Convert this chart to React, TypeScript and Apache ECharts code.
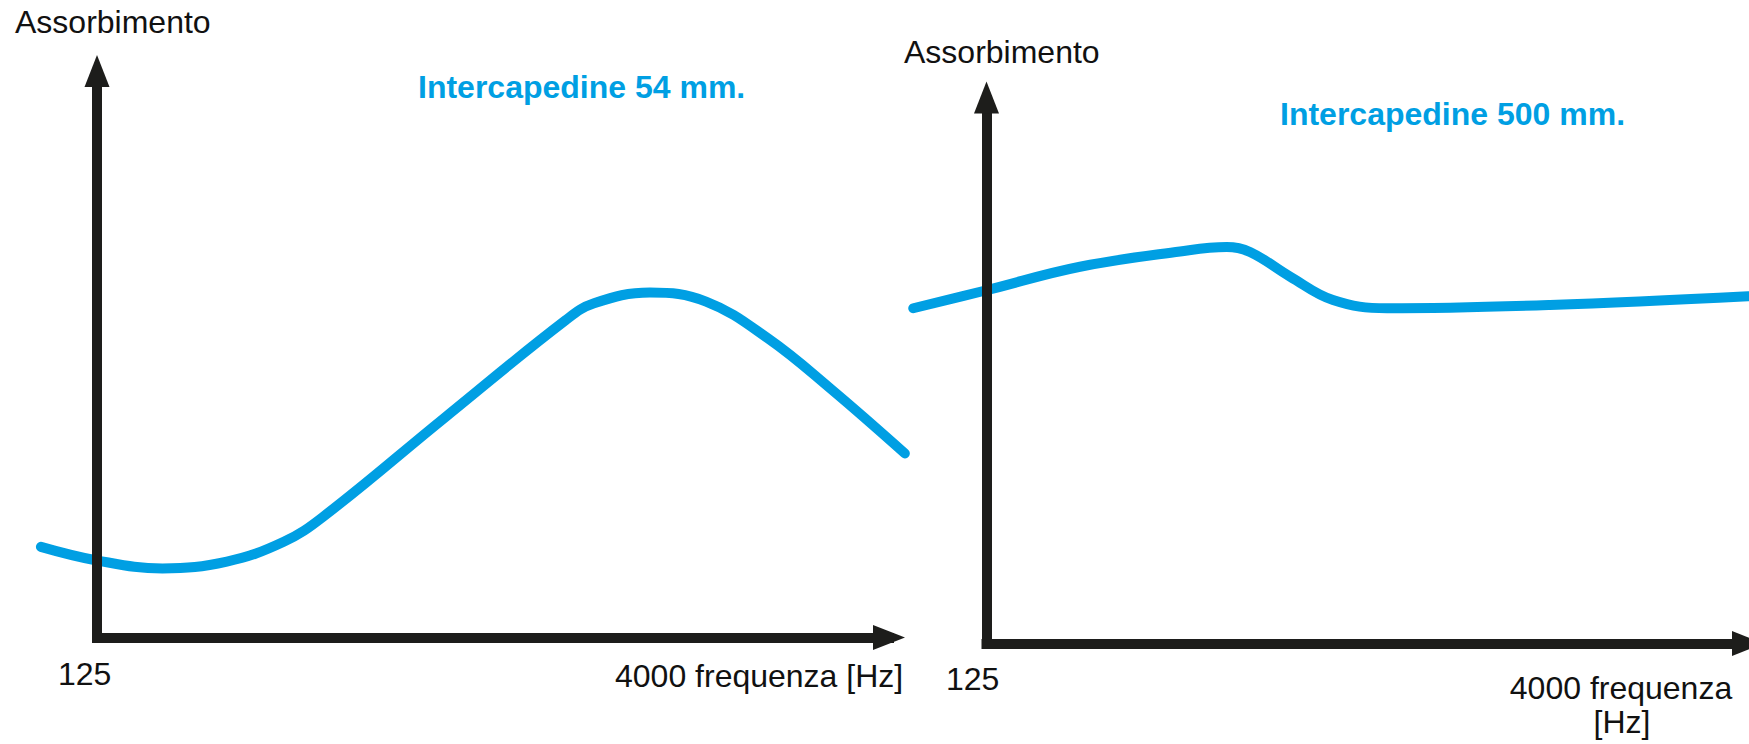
import React, { useEffect, useRef } from 'react';
import * as echarts from 'echarts';

// Horizontal position of each point in octaves above 125 Hz (0 = 125 Hz, 5 = 4000 Hz),
// absorption read on a 0..1 scale from the picture.
// Curve for 54 mm cavity
const OCT_54 = [-0.354, 0, 0.413, 0.82, 1.179, 1.427, 2.19, 2.958, 3.138, 3.491, 3.845, 4.236, 4.628, 5.1];
const ABS_54 = [0.16, 0.136, 0.122, 0.134, 0.169, 0.213, 0.387, 0.56, 0.59, 0.609, 0.593, 0.528, 0.44, 0.325];

// Curve for 500 mm cavity
const OCT_500 = [-0.481, 0, 0.614, 1.271, 1.577, 1.73, 1.993, 2.275, 2.63, 3.7, 5.0];
const ABS_500 = [0.614, 0.647, 0.69, 0.718, 0.726, 0.717, 0.672, 0.629, 0.614, 0.62, 0.636];

const X_TICKS = [0, 5];
const X_TICK_LABELS = ['125', '4000'];
const X_AXIS_NAME = 'frequenza [Hz]';
const Y_AXIS_NAME = 'Assorbimento';
const TITLES = ['Intercapedine 54 mm.', 'Intercapedine 500 mm.'];

const BLUE = '#009fe3';
const AXIS_COLOR = '#1d1d1b';
const TEXT_COLOR = '#111111';
const FAMILY = '"Liberation Sans", Arial, Helvetica, sans-serif';
const FONT = `32px ${FAMILY}`;
const BOLD_FONT = `bold 32px ${FAMILY}`;

const W = 1749;
const H = 744;

// Axis frames (pixel layout)
const FRAMES = [
  { x0: 97, x1: 889, top: 71, bottom: 637.5, extMin: -0.5, extMax: 5.5 },
  { x0: 986.5, x1: 1748, top: 97.5, bottom: 643.5, extMin: -0.5, extMax: 5.0 },
];

function axisGrid(f: any) {
  return { left: f.x0, right: W - f.x1, top: f.top, bottom: H - f.bottom };
}

// A wider plotting area sharing the same scale as the axis frame, so the curves can run past the axes
function plotGrid(f: any) {
  const perUnit = (f.x1 - f.x0) / (X_TICKS[1] - X_TICKS[0]);
  const left = f.x0 + (f.extMin - X_TICKS[0]) * perUnit;
  const right = f.x1 + (f.extMax - X_TICKS[1]) * perUnit;
  return { left, right: W - right, top: f.top, bottom: H - f.bottom };
}

function makeXAxis(gridIndex: number) {
  return {
    type: 'value',
    gridIndex,
    min: X_TICKS[0],
    max: X_TICKS[1],
    interval: X_TICKS[1] - X_TICKS[0],
    z: 5,
    axisLine: {
      show: true,
      onZero: false,
      symbol: ['none', 'triangle'],
      symbolSize: [25, 32],
      lineStyle: { color: AXIS_COLOR, width: 10, cap: 'square' },
    },
    axisTick: { show: false },
    axisLabel: { show: false },
    splitLine: { show: false },
  };
}

function makeYAxis(gridIndex: number) {
  return {
    type: 'value',
    gridIndex,
    min: 0,
    max: 1,
    z: 5,
    axisLine: {
      show: true,
      onZero: false,
      symbol: ['none', 'triangle'],
      symbolSize: [25, 32],
      lineStyle: { color: AXIS_COLOR, width: 10 },
    },
    axisTick: { show: false },
    axisLabel: { show: false },
    splitLine: { show: false },
  };
}

function hiddenX(gridIndex: number, f: any) {
  return { type: 'value', gridIndex, min: f.extMin, max: f.extMax, show: false, splitLine: { show: false } };
}

function hiddenY(gridIndex: number) {
  return { type: 'value', gridIndex, min: 0, max: 1, show: false, splitLine: { show: false } };
}

function makeSeries(idx: number, xs: number[], values: number[]) {
  return {
    type: 'line',
    xAxisIndex: idx,
    yAxisIndex: idx,
    data: xs.map((x, i) => [x, values[i]]),
    smooth: 0.4,
    showSymbol: false,
    symbol: 'none',
    clip: false,
    z: 2,
    lineStyle: { color: BLUE, width: 10, cap: 'round', join: 'round' },
  };
}

function txt(text: string, x: number, y: number, font: string, fill: string, align: string) {
  return {
    type: 'text',
    x,
    y,
    z: 10,
    style: {
      text,
      font,
      fill,
      align,
      textAlign: align,
      verticalAlign: 'middle',
      textVerticalAlign: 'middle',
    },
  };
}

export default function App() {
  const ref = useRef<HTMLDivElement>(null);

  useEffect(() => {
    if (!ref.current) return;
    const chart = echarts.init(ref.current, null, { renderer: 'svg' });
    const option: any = {
      animation: false,
      backgroundColor: '#ffffff',
      grid: [axisGrid(FRAMES[0]), axisGrid(FRAMES[1]), plotGrid(FRAMES[0]), plotGrid(FRAMES[1])],
      xAxis: [makeXAxis(0), makeXAxis(1), hiddenX(2, FRAMES[0]), hiddenX(3, FRAMES[1])],
      yAxis: [makeYAxis(0), makeYAxis(1), hiddenY(2), hiddenY(3)],
      series: [makeSeries(2, OCT_54, ABS_54), makeSeries(3, OCT_500, ABS_500)],
      graphic: [
        txt(Y_AXIS_NAME, 15, 21.5, FONT, TEXT_COLOR, 'left'),
        txt(TITLES[0], 418, 86.5, BOLD_FONT, BLUE, 'left'),
        txt(X_TICK_LABELS[0], 58, 674, FONT, TEXT_COLOR, 'left'),
        txt(`${X_TICK_LABELS[1]} ${X_AXIS_NAME}`, 615, 676, FONT, TEXT_COLOR, 'left'),
        txt(Y_AXIS_NAME, 904, 51.5, FONT, TEXT_COLOR, 'left'),
        txt(TITLES[1], 1280, 114, BOLD_FONT, BLUE, 'left'),
        txt(X_TICK_LABELS[0], 946, 679, FONT, TEXT_COLOR, 'left'),
        txt(`${X_TICK_LABELS[1]} frequenza`, 1621, 687.5, FONT, TEXT_COLOR, 'center'),
        txt('[Hz]', 1622, 721.5, FONT, TEXT_COLOR, 'center'),
      ],
    };
    chart.setOption(option);
    return () => chart.dispose();
  }, []);

  return (
    <div
      ref={ref}
      style={{ position: 'absolute', left: 0, top: 0, width: W, height: H, background: '#ffffff' }}
    />
  );
}
